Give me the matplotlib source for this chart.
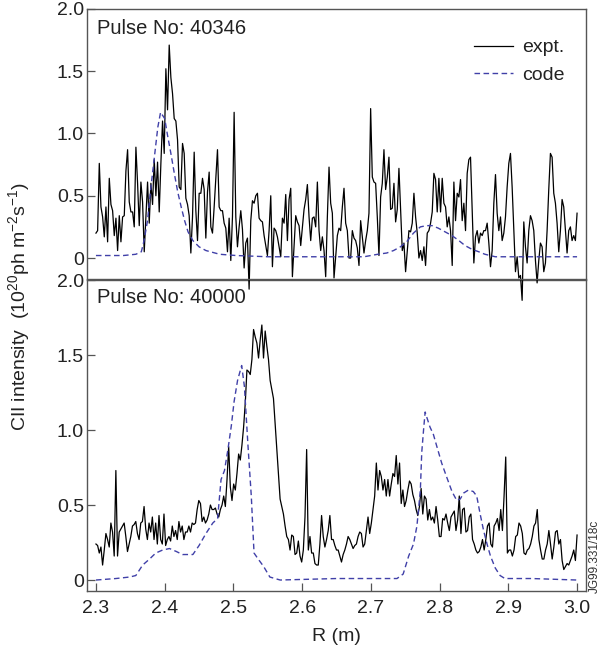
import numpy as np
import matplotlib
matplotlib.use("Agg")
import matplotlib.pyplot as plt

plt.rcParams['font.family'] = ['Liberation Sans', 'DejaVu Sans']
plt.rcParams['mathtext.fontset'] = 'custom'
plt.rcParams['mathtext.rm'] = 'Liberation Sans'
plt.rcParams['mathtext.it'] = 'Liberation Sans:italic'

# ---- Pulse 40346 : measured CII profile (evenly sampled from R = 2.30 to 3.00 m) ----
expt_40346 = [
    0.20, 0.22, 0.76, 0.41, 0.33, 0.17, 0.41, 0.13, 0.64, 0.43,
    0.38, 0.18, 0.32, 0.06, 0.34, 0.13, 0.33, 0.34, 0.70, 0.87,
    0.45, 0.37, 0.37, 0.25, 0.89, 0.60, 0.26, 0.61, 0.45, 0.05,
    0.33, 0.61, 0.28, 0.60, 0.43, 0.79, 0.50, 0.77, 0.37, 0.76,
    1.10, 0.84, 1.52, 1.19, 1.71, 1.45, 1.32, 1.12, 1.10, 0.95,
    0.57, 0.55, 0.92, 0.84, 0.48, 0.43, 0.34, 0.04, 0.33, 0.85,
    0.38, 0.14, 0.52, 0.52, 0.64, 0.55, 0.16, 0.53, 0.69, 0.25,
    0.20, 0.41, 0.64, 0.87, 0.41, 0.38, 0.38, 0.28, 0.24, 0.05,
    0.32, -0.02, 0.33, 1.17, 0.33, 0.09, 0.25, 0.38, 0.23, -0.08,
    0.12, 0.16, -0.25, 0.30, 0.46, 0.44, 0.50,
    0.52, 0.32, 0.30, 0.29, 0.18, 0.10, 0.02, 0.22, 0.50, -0.07,
    0.24, 0.22, 0.17, 0.09, 0.01, 0.32, 0.28, 0.51, 0.14, 0.47,
    0.56, -0.15, 0.09, 0.34, 0.29, 0.26, 0.10, 0.25, 0.39, 0.47,
    0.59, 0.33, 0.14, 0.32, 0.33, 0.25, 0.61, 0.22, 0.06, 0.17,
    0.06, -0.15, 0.33, 0.73, 0.44, 0.36, -0.16, 0.01, 0.18, 0.24,
    0.22, 0.41, 0.56, 0.28, 0.22, 0.00, 0.00, 0.22, 0.16, 0.14,
    0.08, -0.06, 0.30, 0.17, 0.04, 0.14, 0.22, 0.36, 1.20, 0.65,
    0.61, 0.60, 0.33, 0.02, 0.49, 0.60, 0.87, 0.55, 0.65, 0.81,
    0.39, 0.40, 0.60, 0.29, 0.39, 0.72, 0.39, 0.06, 0.12, -0.11,
    0.06, 0.22, 0.21, 0.28, 0.52, 0.33, 0.20, 0.00, 0.06,
    -0.02, 0.09, -0.06, 0.20, 0.22, 0.28, 0.37, 0.68, 0.63, 0.37,
    0.64, 0.37, 0.64, 0.44, 0.41, 0.25, 0.33, 0.22, -0.06, 0.61,
    0.30, 0.52, 0.49, 0.63, 0.30, 0.44, 0.22, 0.68, 0.79, 0.81,
    0.39, -0.04, 0.17, 0.22, 0.12, 0.20, 0.18, 0.22, 0.22, 0.28,
    0.12, -0.07, 0.06, 0.44, 0.67, 0.36, 0.22, 0.33, 0.14, 0.20,
    0.33, 0.57, 0.76, 0.84, 0.57, 0.22, -0.11, 0.01, -0.16, -0.14,
    -0.34, 0.29, 0.09, -0.04, 0.22, 0.34, 0.30, 0.22, -0.02, -0.20,
    -0.02, 0.12, 0.09, -0.11, -0.04, 0.22, 0.55, 0.84, 0.81, 0.52,
    0.44, 0.28, 0.05, 0.22, 0.47, 0.41, 0.22, 0.04, 0.22, 0.25,
    0.14, 0.18, 0.14, 0.36,
]

# code prediction, pulse 40346
code_40346_r = [2.300, 2.340, 2.358, 2.366, 2.370, 2.375, 2.380, 2.385, 2.390, 2.394,
                2.400, 2.404, 2.409, 2.414, 2.419, 2.424, 2.429, 2.434, 2.441, 2.450,
                2.460, 2.480, 2.504, 2.550, 2.650, 2.690, 2.710, 2.723, 2.733, 2.743,
                2.752, 2.762, 2.772, 2.781, 2.789, 2.798, 2.808, 2.818, 2.828, 2.837,
                2.847, 2.857, 2.866, 2.881, 2.910, 3.000]
code_40346 = [0.02, 0.02, 0.03, 0.05, 0.14, 0.30, 0.57, 0.81, 1.05, 1.17,
              1.12, 0.99, 0.84, 0.68, 0.53, 0.41, 0.30, 0.21, 0.14, 0.09,
              0.06, 0.03, 0.02, 0.01, 0.01, 0.01, 0.03, 0.04, 0.06, 0.09,
              0.13, 0.20, 0.25, 0.26, 0.26, 0.24, 0.21, 0.18, 0.14, 0.10,
              0.07, 0.05, 0.03, 0.01, 0.01, 0.01]

# ---- Pulse 40000 : measured CII profile (evenly sampled from R = 2.30 to 3.00 m) ----
expt_40000 = [
    0.24, 0.23, 0.18, 0.22, 0.10, 0.20, 0.31, 0.27, 0.22, 0.38,
    0.32, 0.16, 0.73, 0.16, 0.32, 0.34, 0.36, 0.38, 0.29, 0.19,
    0.24, 0.29, 0.36, 0.37, 0.39, 0.31, 0.27, 0.38, 0.39, 0.49,
    0.34, 0.27, 0.38, 0.32, 0.42, 0.27, 0.38, 0.24, 0.43, 0.27,
    0.24, 0.44, 0.23, 0.27, 0.29, 0.26, 0.36, 0.29, 0.33, 0.27,
    0.39, 0.32, 0.36, 0.27, 0.32, 0.32, 0.36, 0.32, 0.38, 0.37,
    0.38, 0.47, 0.53, 0.51, 0.39, 0.42, 0.38, 0.40, 0.44, 0.50,
    0.47, 0.47, 0.48, 0.44, 0.42, 0.47, 0.50, 0.56, 0.49, 0.67,
    0.89, 0.62, 0.53, 0.64, 0.60, 0.71, 0.84, 0.80, 0.90, 1.02,
    1.18, 1.40, 1.39, 1.37, 1.47, 1.67, 1.62,
    1.58, 1.48, 1.60, 1.70, 1.48, 1.66, 1.56, 1.47, 1.33, 1.27,
    1.21, 1.04, 0.87, 0.71, 0.54, 0.49, 0.44, 0.36, 0.29, 0.27,
    0.20, 0.30, 0.29, 0.17, 0.18, 0.26, 0.16, 0.12, 0.20, 0.42,
    0.87, 0.20, 0.29, 0.18, 0.18, 0.11, 0.10, 0.10, 0.24, 0.43,
    0.29, 0.22, 0.27, 0.33, 0.43, 0.27, 0.27, 0.23, 0.20, 0.20,
    0.16, 0.12, 0.17, 0.20, 0.24, 0.29, 0.27, 0.24, 0.21, 0.23,
    0.24, 0.29, 0.32, 0.31, 0.22, 0.24, 0.33, 0.42, 0.31, 0.38,
    0.47, 0.56, 0.78, 0.60, 0.73, 0.69, 0.60, 0.67, 0.56, 0.67,
    0.56, 0.64, 0.71, 0.69, 0.83, 0.64, 0.78, 0.51, 0.60, 0.49,
    0.53, 0.60, 0.66, 0.64, 0.57, 0.53, 0.47, 0.43, 0.49,
    0.61, 0.44, 0.56, 0.54, 0.40, 0.47, 0.40, 0.42, 0.38, 0.49,
    0.40, 0.29, 0.29, 0.41, 0.40, 0.44, 0.38, 0.33, 0.42, 0.44,
    0.46, 0.33, 0.40, 0.56, 0.31, 0.47, 0.48, 0.32, 0.33, 0.42,
    0.44, 0.27, 0.24, 0.20, 0.18, 0.19, 0.22, 0.27, 0.20, 0.27,
    0.36, 0.38, 0.24, 0.22, 0.36, 0.38, 0.41, 0.33, 0.47, 0.33,
    0.56, 0.82, 0.18, 0.20, 0.20, 0.16, 0.20, 0.29, 0.30, 0.38,
    0.36, 0.31, 0.18, 0.17, 0.20, 0.21, 0.24, 0.29, 0.36, 0.38,
    0.47, 0.27, 0.20, 0.14, 0.14, 0.20, 0.24, 0.33, 0.24, 0.14,
    0.22, 0.32, 0.33, 0.24, 0.27, 0.13, 0.07, 0.09, 0.11, 0.10,
    0.13, 0.16, 0.20, 0.13, 0.30,
]

# code prediction, pulse 40000
code_40000_r = [2.300, 2.329, 2.349, 2.358, 2.368, 2.378, 2.387, 2.397, 2.407, 2.417,
                2.426, 2.441, 2.450, 2.460, 2.470, 2.477, 2.482, 2.487, 2.492, 2.497,
                2.501, 2.506, 2.512, 2.516, 2.521, 2.526, 2.530, 2.536, 2.544, 2.553,
                2.568, 2.650, 2.738, 2.747, 2.755, 2.762, 2.767, 2.772, 2.774, 2.777,
                2.779, 2.781, 2.786, 2.791, 2.796, 2.803, 2.810, 2.818, 2.825, 2.830,
                2.835, 2.842, 2.849, 2.854, 2.859, 2.864, 2.869, 2.874, 2.881, 2.888,
                2.895, 2.934, 3.000]
code_40000 = [0.00, 0.01, 0.02, 0.03, 0.10, 0.14, 0.18, 0.20, 0.21, 0.19,
              0.17, 0.17, 0.23, 0.31, 0.38, 0.41, 0.67, 0.73, 0.87, 1.03,
              1.19, 1.33, 1.43, 1.29, 0.91, 0.56, 0.18, 0.14, 0.09, 0.02,
              0.00, 0.01, 0.01, 0.04, 0.16, 0.24, 0.36, 0.60, 0.85, 1.02,
              1.12, 1.09, 1.02, 0.97, 0.89, 0.78, 0.69, 0.59, 0.53, 0.54,
              0.58, 0.60, 0.59, 0.56, 0.44, 0.33, 0.24, 0.16, 0.08, 0.03,
              0.01, 0.01, 0.00]

r_40346 = np.linspace(2.30, 3.00, len(expt_40346))
r_40000 = np.linspace(2.30, 3.00, len(expt_40000))

y_ticks = [0, 0.5, 1.0, 1.5, 2.0]
y_tick_labels = ['0', '0.5', '1.0', '1.5', '2.0']
x_ticks = [2.3, 2.4, 2.5, 2.6, 2.7, 2.8, 2.9, 3.0]
x_tick_labels = ['2.3', '2.4', '2.5', '2.6', '2.7', '2.8', '2.9', '3.0']

spine_col = '#555555'
text_col = '#222222'
code_col = '#4040a8'

fig = plt.figure(figsize=(6.07, 6.55), dpi=100)
ax_top = fig.add_axes([0.1428, 0.5733, 0.8226, 0.4130])
ax_bot = fig.add_axes([0.1428, 0.0982, 0.8226, 0.4743])
# top panel drawn last so its negative excursions show over the lower frame
ax_top.set_zorder(2)
ax_bot.set_zorder(1)

ax_top.plot(r_40346, expt_40346, color='black', lw=0.9, clip_on=False, label='expt.')
ax_top.plot(code_40346_r, code_40346, color=code_col, lw=1.0, dashes=(4, 2.5), label='code')
ax_bot.plot(r_40000, expt_40000, color='black', lw=0.9)
ax_bot.plot(code_40000_r, code_40000, color=code_col, lw=1.0, dashes=(4, 2.5))

ax_top.set_xlim(2.2865, 3.013)
ax_bot.set_xlim(2.2865, 3.013)
ax_top.set_ylim(-0.1725, 2.0)
ax_bot.set_ylim(-0.071, 2.0)

for ax in (ax_top, ax_bot):
    for sp in ax.spines.values():
        sp.set_color(spine_col)
        sp.set_linewidth(1.0)
    ax.set_yticks(y_ticks)
    ax.set_yticklabels(y_tick_labels)
    ax.tick_params(axis='y', direction='in', length=6, width=0.9, color=spine_col,
                   labelsize=14, labelcolor=text_col, pad=2)

ax_top.tick_params(axis='x', bottom=False, labelbottom=False)
ax_bot.set_xticks(x_ticks)
ax_bot.set_xticklabels(x_tick_labels)
ax_bot.tick_params(axis='x', direction='in', length=6, width=0.9, color=spine_col,
                   labelsize=14, labelcolor=text_col, pad=7)

ax_top.text(0.021, 0.926, 'Pulse No: 40346', transform=ax_top.transAxes,
            fontsize=14.5, color=text_col, va='center', ha='left')
ax_bot.text(0.021, 0.945, 'Pulse No: 40000', transform=ax_bot.transAxes,
            fontsize=14.5, color=text_col, va='center', ha='left')

leg = ax_top.legend(loc='upper right', bbox_to_anchor=(0.958, 0.89), frameon=False,
                    handlelength=2.0, handletextpad=0.5, labelspacing=0.5,
                    borderpad=0, borderaxespad=0, fontsize=14)
for t in leg.get_texts():
    t.set_color(text_col)

fig.text(0.031, 0.533, r'CII intensity  (10$^{\mathrm{20}}$ph m$^{\mathrm{-2}}$s$^{\mathrm{-1}}$)',
         rotation=90, ha='center', va='center', fontsize=14, color=text_col)
fig.text(0.5535, 0.029, 'R (m)', ha='center', va='center', fontsize=14, color=text_col)
fig.text(0.980, 0.151, 'JG99.331/18c', rotation=90, ha='center', va='center',
         fontsize=8.5, color='#333333')

fig.savefig('out.png', dpi=100)
